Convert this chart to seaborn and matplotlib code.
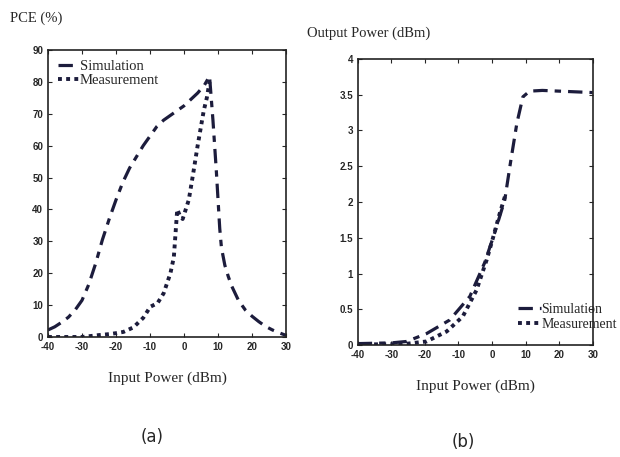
import numpy as np
import pandas as pd
import matplotlib
matplotlib.use('Agg')
import matplotlib.pyplot as plt
import seaborn as sns
from matplotlib.ticker import FuncFormatter

# (a) PCE vs input power
pce_sim_x = [-40, -38, -36, -34, -32, -30, -28, -26, -24, -22, -20, -18, -16, -14, -12, -10, -8, -6, -4, -2, 0, 2, 4, 6, 7.5,
             8.5, 9.5, 10, 10.5, 11, 12, 13, 14, 16, 18, 20, 22, 24, 26, 28, 30]
pce_sim_y = [2.2, 3.2, 4.6, 6.2, 8.5, 11.5, 16.5, 23, 30.5, 37, 43, 48.5, 53, 56.5, 60, 63, 66, 68, 69.5, 71, 72.5, 74.5, 76.5, 79, 81.8,
             68, 52, 43, 34, 28, 22.5, 19, 16, 11.5, 8.5, 6.5, 4.8, 3.3, 2.2, 1.3, 0.5]
pce_meas_x = [-40, -35, -30, -25, -22, -20, -17.8, -14.9, -12, -9.9, -7.8, -6, -4, -3, -2, -1.2, -0.4, 0.5, 1.4, 2.8, 4, 5.8, 6.7, 7.5]
pce_meas_y = [0, 0, 0, 0.6, 0.9, 1.2, 1.6, 3, 6, 9.5, 10.6, 13.7, 20, 25, 40, 38, 37, 40, 43, 52, 60, 71, 75, 80]

# (b) output power vs input power
out_sim_x = [-40, -30, -25.4, -19.5, -12.6, -6.6, -2.2, 0.8, 3.8, 5.5, 7.4, 9.2, 11.2, 15, 20, 25, 30]
out_sim_y = [0.02, 0.03, 0.05, 0.16, 0.35, 0.68, 1.15, 1.57, 2.03, 2.55, 3.1, 3.47, 3.55, 3.56, 3.55, 3.54, 3.53]
out_meas_x = [-40, -30, -25, -19.5, -13.5, -8.7, -4.6, -1.6, 0.3, 2.3, 4]
out_meas_y = [0.01, 0.01, 0.02, 0.05, 0.19, 0.4, 0.77, 1.19, 1.5, 1.84, 2.1]

sns.set_style('ticks')
plt.rcParams['font.family'] = ['Liberation Serif', 'DejaVu Serif']
plt.rcParams['axes.unicode_minus'] = False

navy = '#1c1c3c'
tick_font = {'family': 'Liberation Sans', 'weight': 'bold', 'size': 7}

fig = plt.figure(figsize=(6.2, 4.57), dpi=100)
ax1 = fig.add_axes([0.0774, 0.2626, 0.384, 0.628])
ax2 = fig.add_axes([0.577, 0.245, 0.379, 0.626])

df_a_sim = pd.DataFrame({'x': pce_sim_x, 'y': pce_sim_y})
df_a_meas = pd.DataFrame({'x': pce_meas_x, 'y': pce_meas_y})
df_b_sim = pd.DataFrame({'x': out_sim_x, 'y': out_sim_y})
df_b_meas = pd.DataFrame({'x': out_meas_x, 'y': out_meas_y})

for ax, sim, meas in [(ax1, df_a_sim, df_a_meas), (ax2, df_b_sim, df_b_meas)]:
    sns.lineplot(data=sim, x='x', y='y', ax=ax, color=navy, lw=2.3,
                 label='Simulation', sort=False)
    sns.lineplot(data=meas, x='x', y='y', ax=ax, color=navy, lw=2.8,
                 label='Measurement', sort=False)
    ax.lines[0].set_dashes((4.5, 2.2, 2, 2.2))
    ax.lines[1].set_dashes((1, 1.1))
    ax.set_xlim(-40, 30)
    ax.set_xticks(np.arange(-40, 31, 10))
    ax.tick_params(direction='in', top=True, right=True, length=3, width=0.8)
    for sp in ax.spines.values():
        sp.set_linewidth(1.2)
        sp.set_color('#222222')
    ax.set_xlabel('Input Power (dBm)', fontsize=11, labelpad=14)
    ax.set_ylabel('')

ax1.set_ylim(0, 90)
ax1.set_yticks(np.arange(0, 91, 10))
ax2.set_ylim(0, 4)
ax2.set_yticks(np.arange(0, 4.01, 0.5))
ax2.yaxis.set_major_formatter(FuncFormatter(lambda v, p: f'{v:g}'))
for ax in (ax1, ax2):
    for lab in ax.get_xticklabels() + ax.get_yticklabels():
        lab.set_fontproperties(tick_font)

leg1 = ax1.legend(loc='upper left', bbox_to_anchor=(0.0, 1.0), frameon=False,
                  fontsize=10.5, handlelength=1.4, handletextpad=0.1,
                  labelspacing=0.05, borderaxespad=0.3)
leg2 = ax2.legend(loc='lower left', bbox_to_anchor=(0.66, 0.03), frameon=False,
                  fontsize=10, handlelength=1.6, handletextpad=0.05,
                  labelspacing=0.15, borderaxespad=0.0)

fig.text(0.016, 0.96, 'PCE (%)', fontsize=10.5, va='center', ha='left')
fig.text(0.495, 0.927, 'Output Power (dBm)', fontsize=10.5, va='center', ha='left')
fig.text(0.245, 0.043, '(a)', fontsize=12, ha='center', va='center', family='DejaVu Sans')
fig.text(0.747, 0.033, '(b)', fontsize=12, ha='center', va='center', family='DejaVu Sans')

fig.savefig('out.png', dpi=100, facecolor='white')
